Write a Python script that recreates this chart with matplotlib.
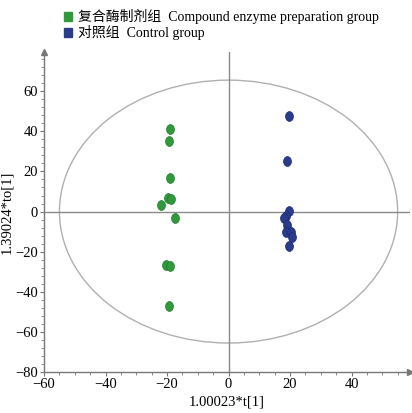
import numpy as np
import matplotlib.pyplot as plt
from matplotlib.patches import Ellipse
from matplotlib.path import Path
from matplotlib.ticker import MultipleLocator

plt.rcParams['font.family'] = ['Liberation Serif', 'Noto Sans CJK SC']
plt.rcParams['axes.unicode_minus'] = True

# Veri
enzyme_t = [-19.2, -19.4, -19.0, -19.8, -18.7, -21.9, -17.5, -20.2, -19.2, -19.4]
enzyme_to = [41.0, 35.2, 16.8, 6.8, 6.5, 3.2, -3.1, -26.7, -27.2, -46.9]
control_t = [19.8, 18.9, 19.7, 18.7, 18.0, 19.0, 18.7, 20.4, 20.7, 19.8]
control_to = [47.6, 25.0, 0.2, -2.0, -3.2, -6.5, -10.2, -10.2, -12.6, -17.2]
groups = ["复合酶制剂组  Compound enzyme preparation group", "对照组  Control group"]
colors = ["#2f9a3c", "#2b3b8c"]
edges = ["#1f7a2a", "#1a2a70"]

# Hafif dikey oval işaretçi
circ = Path.unit_circle()
oval = Path(circ.vertices * np.array([0.8, 1.0]), circ.codes)

fig = plt.figure(figsize=(4.12, 4.13), dpi=100)
ax = fig.add_axes([0.107, 0.099, 0.888, 0.775])

ax.set_xlim(-60, 59)
ax.set_ylim(-80, 79.5)

# Hotelling T2 elipsi
ax.add_patch(Ellipse((0, 0), 110, 131, fill=False, edgecolor="#b0b0b0", lw=1.0, zorder=1))

# Sıfır çizgileri
ax.axhline(0, color="#8a8a8a", lw=1.0, zorder=1)
ax.axvline(0, color="#8a8a8a", lw=1.0, zorder=1)

ax.scatter(enzyme_t, enzyme_to, s=50, marker=oval, color=colors[0], edgecolors=edges[0],
           linewidths=0.5, zorder=3)
ax.scatter(control_t, control_to, s=50, marker=oval, color=colors[1], edgecolors=edges[1],
           linewidths=0.5, zorder=3)

for s in ["top", "right"]:
    ax.spines[s].set_visible(False)
for s in ["left", "bottom"]:
    ax.spines[s].set_color("#777777")
    ax.spines[s].set_linewidth(1.0)

# Ok uçları
ax.plot(1, 0, ">", transform=ax.transAxes, color="#777777", ms=5, clip_on=False)
ax.plot(0, 1, "^", transform=ax.transAxes, color="#777777", ms=5, clip_on=False)

ax.xaxis.set_minor_locator(MultipleLocator(5))
ax.yaxis.set_minor_locator(MultipleLocator(4))
ax.set_xticks(np.arange(-60, 41, 20))
ax.set_yticks(np.arange(-80, 61, 20))
ax.tick_params(which="both", direction="out", colors="#777777", labelcolor="black",
               labelsize=10.5, pad=1.5)
ax.tick_params(which="major", length=3)
ax.tick_params(which="minor", length=2)

ax.set_xlabel("1.00023*t[1]", fontsize=10.5, labelpad=3)
ax.set_ylabel("1.39024*to[1]", fontsize=10.5, labelpad=1)

# Gösterge
for i, (g, c) in enumerate(zip(groups, colors)):
    y = 0.961 - i * 0.039
    fig.patches.append(plt.Rectangle((0.155, y - 0.011), 0.019, 0.022, transform=fig.transFigure,
                                     color=c, figure=fig))
    fig.text(0.19, y, g, fontsize=10, va="center", ha="left")

fig.savefig("out.png", dpi=100)
